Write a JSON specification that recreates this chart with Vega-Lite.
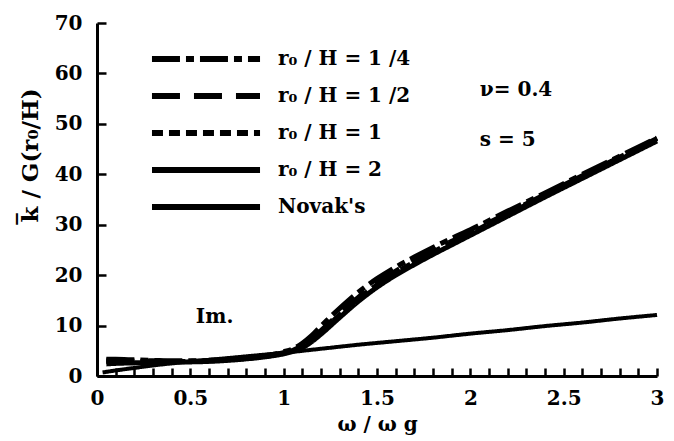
{
  "$schema": "https://vega.github.io/schema/vega-lite/v6.json",
  "width": 560,
  "height": 353,
  "autosize": "none",
  "padding": {"left": 97, "top": 23, "right": 17, "bottom": 65},
  "background": "white",
  "config": {
    "view": {"stroke": null},
    "font": "DejaVu Serif",
    "axis": {
      "grid": false,
      "domainColor": "black",
      "domainWidth": 3,
      "tickColor": "black",
      "tickWidth": 2.5,
      "labelFont": "DejaVu Serif",
      "labelFontWeight": "bold",
      "labelFontSize": 20,
      "labelColor": "black",
      "titleFont": "DejaVu Serif",
      "titleFontWeight": "bold",
      "titleFontSize": 23,
      "titleColor": "black"
    }
  },
  "datasets": {
    "curves": [
      {"s": "r₀ / H = 1 /4", "x": 0.05, "y": 3.3}, {"s": "r₀ / H = 1 /4", "x": 0.1, "y": 3.3}, {"s": "r₀ / H = 1 /4", "x": 0.2, "y": 3.2}, {"s": "r₀ / H = 1 /4", "x": 0.3, "y": 3.1}, {"s": "r₀ / H = 1 /4", "x": 0.4, "y": 3.0}, {"s": "r₀ / H = 1 /4", "x": 0.5, "y": 3.0}, {"s": "r₀ / H = 1 /4", "x": 0.6, "y": 3.1}, {"s": "r₀ / H = 1 /4", "x": 0.7, "y": 3.3}, {"s": "r₀ / H = 1 /4", "x": 0.8, "y": 3.6}, {"s": "r₀ / H = 1 /4", "x": 0.9, "y": 4.0}, {"s": "r₀ / H = 1 /4", "x": 1.0, "y": 4.8}, {"s": "r₀ / H = 1 /4", "x": 1.05, "y": 5.4}, {"s": "r₀ / H = 1 /4", "x": 1.1, "y": 6.5}, {"s": "r₀ / H = 1 /4", "x": 1.15, "y": 8.0}, {"s": "r₀ / H = 1 /4", "x": 1.2, "y": 9.9}, {"s": "r₀ / H = 1 /4", "x": 1.3, "y": 13.4}, {"s": "r₀ / H = 1 /4", "x": 1.4, "y": 16.6}, {"s": "r₀ / H = 1 /4", "x": 1.5, "y": 19.3}, {"s": "r₀ / H = 1 /4", "x": 1.6, "y": 21.6}, {"s": "r₀ / H = 1 /4", "x": 1.7, "y": 23.6}, {"s": "r₀ / H = 1 /4", "x": 1.8, "y": 25.5}, {"s": "r₀ / H = 1 /4", "x": 1.9, "y": 27.3}, {"s": "r₀ / H = 1 /4", "x": 2.0, "y": 29.0}, {"s": "r₀ / H = 1 /4", "x": 2.2, "y": 32.7}, {"s": "r₀ / H = 1 /4", "x": 2.4, "y": 36.3}, {"s": "r₀ / H = 1 /4", "x": 2.6, "y": 40.0}, {"s": "r₀ / H = 1 /4", "x": 2.8, "y": 43.6}, {"s": "r₀ / H = 1 /4", "x": 3.0, "y": 47.2},
      {"s": "r₀ / H = 1 /2", "x": 0.05, "y": 3.1}, {"s": "r₀ / H = 1 /2", "x": 0.1, "y": 3.1}, {"s": "r₀ / H = 1 /2", "x": 0.2, "y": 3.0}, {"s": "r₀ / H = 1 /2", "x": 0.3, "y": 3.0}, {"s": "r₀ / H = 1 /2", "x": 0.4, "y": 2.9}, {"s": "r₀ / H = 1 /2", "x": 0.5, "y": 2.9}, {"s": "r₀ / H = 1 /2", "x": 0.6, "y": 3.0}, {"s": "r₀ / H = 1 /2", "x": 0.7, "y": 3.2}, {"s": "r₀ / H = 1 /2", "x": 0.8, "y": 3.5}, {"s": "r₀ / H = 1 /2", "x": 0.9, "y": 3.9}, {"s": "r₀ / H = 1 /2", "x": 1.0, "y": 4.6}, {"s": "r₀ / H = 1 /2", "x": 1.05, "y": 5.1}, {"s": "r₀ / H = 1 /2", "x": 1.1, "y": 6.0}, {"s": "r₀ / H = 1 /2", "x": 1.15, "y": 7.3}, {"s": "r₀ / H = 1 /2", "x": 1.2, "y": 9.0}, {"s": "r₀ / H = 1 /2", "x": 1.3, "y": 12.4}, {"s": "r₀ / H = 1 /2", "x": 1.4, "y": 15.6}, {"s": "r₀ / H = 1 /2", "x": 1.5, "y": 18.4}, {"s": "r₀ / H = 1 /2", "x": 1.6, "y": 20.8}, {"s": "r₀ / H = 1 /2", "x": 1.7, "y": 22.9}, {"s": "r₀ / H = 1 /2", "x": 1.8, "y": 24.8}, {"s": "r₀ / H = 1 /2", "x": 1.9, "y": 26.7}, {"s": "r₀ / H = 1 /2", "x": 2.0, "y": 28.5}, {"s": "r₀ / H = 1 /2", "x": 2.2, "y": 32.3}, {"s": "r₀ / H = 1 /2", "x": 2.4, "y": 36.0}, {"s": "r₀ / H = 1 /2", "x": 2.6, "y": 39.7}, {"s": "r₀ / H = 1 /2", "x": 2.8, "y": 43.4}, {"s": "r₀ / H = 1 /2", "x": 3.0, "y": 47.1},
      {"s": "r₀ / H = 1", "x": 0.05, "y": 2.9}, {"s": "r₀ / H = 1", "x": 0.1, "y": 2.9}, {"s": "r₀ / H = 1", "x": 0.2, "y": 2.9}, {"s": "r₀ / H = 1", "x": 0.3, "y": 2.9}, {"s": "r₀ / H = 1", "x": 0.4, "y": 2.9}, {"s": "r₀ / H = 1", "x": 0.5, "y": 2.9}, {"s": "r₀ / H = 1", "x": 0.6, "y": 3.0}, {"s": "r₀ / H = 1", "x": 0.7, "y": 3.2}, {"s": "r₀ / H = 1", "x": 0.8, "y": 3.5}, {"s": "r₀ / H = 1", "x": 0.9, "y": 3.9}, {"s": "r₀ / H = 1", "x": 1.0, "y": 4.5}, {"s": "r₀ / H = 1", "x": 1.05, "y": 5.0}, {"s": "r₀ / H = 1", "x": 1.1, "y": 5.8}, {"s": "r₀ / H = 1", "x": 1.15, "y": 7.1}, {"s": "r₀ / H = 1", "x": 1.2, "y": 8.7}, {"s": "r₀ / H = 1", "x": 1.3, "y": 12.1}, {"s": "r₀ / H = 1", "x": 1.4, "y": 15.3}, {"s": "r₀ / H = 1", "x": 1.5, "y": 18.1}, {"s": "r₀ / H = 1", "x": 1.6, "y": 20.5}, {"s": "r₀ / H = 1", "x": 1.7, "y": 22.6}, {"s": "r₀ / H = 1", "x": 1.8, "y": 24.6}, {"s": "r₀ / H = 1", "x": 1.9, "y": 26.5}, {"s": "r₀ / H = 1", "x": 2.0, "y": 28.3}, {"s": "r₀ / H = 1", "x": 2.2, "y": 32.1}, {"s": "r₀ / H = 1", "x": 2.4, "y": 35.8}, {"s": "r₀ / H = 1", "x": 2.6, "y": 39.5}, {"s": "r₀ / H = 1", "x": 2.8, "y": 43.2}, {"s": "r₀ / H = 1", "x": 3.0, "y": 46.9},
      {"s": "r₀ / H = 2", "x": 0.05, "y": 2.4}, {"s": "r₀ / H = 2", "x": 0.1, "y": 2.5}, {"s": "r₀ / H = 2", "x": 0.2, "y": 2.6}, {"s": "r₀ / H = 2", "x": 0.3, "y": 2.7}, {"s": "r₀ / H = 2", "x": 0.4, "y": 2.8}, {"s": "r₀ / H = 2", "x": 0.5, "y": 2.8}, {"s": "r₀ / H = 2", "x": 0.6, "y": 2.9}, {"s": "r₀ / H = 2", "x": 0.7, "y": 3.1}, {"s": "r₀ / H = 2", "x": 0.8, "y": 3.4}, {"s": "r₀ / H = 2", "x": 0.9, "y": 3.8}, {"s": "r₀ / H = 2", "x": 1.0, "y": 4.4}, {"s": "r₀ / H = 2", "x": 1.05, "y": 4.9}, {"s": "r₀ / H = 2", "x": 1.1, "y": 5.6}, {"s": "r₀ / H = 2", "x": 1.15, "y": 6.8}, {"s": "r₀ / H = 2", "x": 1.2, "y": 8.3}, {"s": "r₀ / H = 2", "x": 1.3, "y": 11.6}, {"s": "r₀ / H = 2", "x": 1.4, "y": 14.8}, {"s": "r₀ / H = 2", "x": 1.5, "y": 17.6}, {"s": "r₀ / H = 2", "x": 1.6, "y": 20.0}, {"s": "r₀ / H = 2", "x": 1.7, "y": 22.1}, {"s": "r₀ / H = 2", "x": 1.8, "y": 24.1}, {"s": "r₀ / H = 2", "x": 1.9, "y": 26.0}, {"s": "r₀ / H = 2", "x": 2.0, "y": 27.9}, {"s": "r₀ / H = 2", "x": 2.2, "y": 31.7}, {"s": "r₀ / H = 2", "x": 2.4, "y": 35.5}, {"s": "r₀ / H = 2", "x": 2.6, "y": 39.2}, {"s": "r₀ / H = 2", "x": 2.8, "y": 42.9}, {"s": "r₀ / H = 2", "x": 3.0, "y": 46.6},
      {"s": "Novak's", "x": 0.03, "y": 0.7}, {"s": "Novak's", "x": 0.1, "y": 1.1}, {"s": "Novak's", "x": 0.2, "y": 1.6}, {"s": "Novak's", "x": 0.3, "y": 2.1}, {"s": "Novak's", "x": 0.4, "y": 2.5}, {"s": "Novak's", "x": 0.6, "y": 3.2}, {"s": "Novak's", "x": 0.8, "y": 3.9}, {"s": "Novak's", "x": 1.0, "y": 4.6}, {"s": "Novak's", "x": 1.2, "y": 5.4}, {"s": "Novak's", "x": 1.4, "y": 6.2}, {"s": "Novak's", "x": 1.6, "y": 6.9}, {"s": "Novak's", "x": 1.8, "y": 7.6}, {"s": "Novak's", "x": 2.0, "y": 8.4}, {"s": "Novak's", "x": 2.2, "y": 9.1}, {"s": "Novak's", "x": 2.4, "y": 9.9}, {"s": "Novak's", "x": 2.6, "y": 10.6}, {"s": "Novak's", "x": 2.8, "y": 11.4}, {"s": "Novak's", "x": 3.0, "y": 12.1}
    ],
    "notes": [
      {"t": "ν= 0.4", "x": 2.245, "y": 56.7},
      {"t": "s = 5", "x": 2.2, "y": 46.8},
      {"t": "Im.", "x": 0.63, "y": 11.7}
    ]
  },
  "layer": [
    {
      "data": {"name": "curves"},
      "transform": [{"filter": "datum.s !== \"Novak's\""}],
      "mark": {"type": "line", "color": "black", "strokeWidth": 5, "interpolate": "monotone"},
      "encoding": {
        "x": {
          "field": "x", "type": "quantitative",
          "scale": {"domain": [0, 3], "nice": false, "zero": false},
          "axis": {
            "title": "ω / ω g",
            "values": [0, 0.1, 0.2, 0.3, 0.4, 0.5, 0.6, 0.7, 0.8, 0.9, 1, 1.1, 1.2, 1.3, 1.4, 1.5, 1.6, 1.7, 1.8, 1.9, 2, 2.1, 2.2, 2.3, 2.4, 2.5, 2.6, 2.7, 2.8, 2.9, 3],
            "tickCount": 100,
            "labelExpr": "round(datum.value * 10) % 5 == 0 ? format(datum.value, '~g') : ''",
            "tickSize": -8,
            "labelPadding": 20,
            "labelFlush": false,
            "labelOverlap": false,
            "titleY": 54,
            "titleBaseline": "alphabetic",
            "titleFontSize": 20
          }
        },
        "y": {
          "field": "y", "type": "quantitative",
          "scale": {"domain": [0, 70], "nice": false},
          "axis": {
            "title": "k̅ / G(r₀/H)",
            "values": [0, 10, 20, 30, 40, 50, 60, 70],
            "format": "d",
            "tickCount": 100,
            "tickSize": -9,
            "labelPadding": 24,
            "labelOverlap": false,
            "titleAngle": 270,
            "titleX": -67,
            "titleY": 132,
            "titleAlign": "center",
            "titleBaseline": "middle"
          }
        },
        "strokeDash": {
          "field": "s", "type": "nominal",
          "scale": {
            "domain": ["r₀ / H = 1 /4", "r₀ / H = 1 /2", "r₀ / H = 1", "r₀ / H = 2", "Novak's"],
            "range": [[28, 6, 8, 6], [28, 14], [11, 6], [1, 0], [1, 0]]
          },
          "legend": {
            "title": null,
            "orient": "none",
            "legendX": 95,
            "legendY": 22,
            "padding": 0,
            "symbolType": "M-5,0H5",
            "symbolSize": 467,
            "symbolStrokeWidth": 6,
            "symbolStrokeColor": "black",
            "labelFont": "DejaVu Serif",
            "labelFontWeight": "bold",
            "labelFontSize": 20,
            "labelColor": "black",
            "labelOffset": 58,
            "rowPadding": 11,
            "labelLimit": 300
          }
        }
      }
    },
    {
      "data": {"name": "curves"},
      "transform": [{"filter": "datum.s === \"Novak's\""}],
      "mark": {"type": "line", "color": "black", "strokeWidth": 4, "interpolate": "monotone"},
      "encoding": {
        "x": {"field": "x", "type": "quantitative"},
        "y": {"field": "y", "type": "quantitative"},
        "strokeDash": {"field": "s", "type": "nominal"}
      }
    },
    {
      "data": {"name": "notes"},
      "mark": {"type": "text", "font": "DejaVu Serif", "fontWeight": "bold", "fontSize": 20, "color": "black", "align": "center", "baseline": "middle"},
      "encoding": {
        "x": {"field": "x", "type": "quantitative"},
        "y": {"field": "y", "type": "quantitative"},
        "text": {"field": "t"}
      }
    }
  ]
}
